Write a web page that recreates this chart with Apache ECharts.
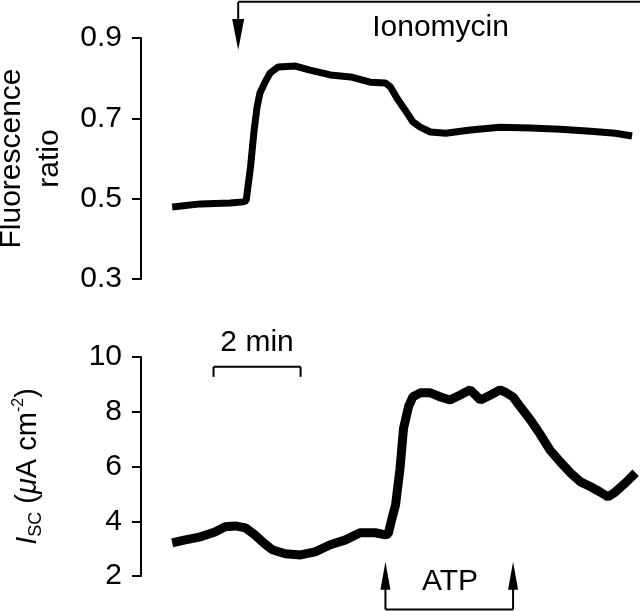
<!DOCTYPE html>
<html><head><meta charset="utf-8">
<script src="https://cdn.jsdelivr.net/npm/echarts@6/dist/echarts.min.js"></script>
<style>html,body{margin:0;padding:0;background:#fff}#c{width:640px;height:611px}</style>
</head><body><div id="c"></div>
<script>
// ---- data (time in seconds) ----
const topTime  = [0, 39, 80, 98, 102, 108, 113, 117, 121, 128, 135, 146, 170, 190, 218, 246, 273, 294, 301, 310, 321, 332, 342, 356, 377, 411, 452, 494, 535, 577, 611, 634];
const topRatio = [0.479, 0.487, 0.489, 0.492, 0.495, 0.579, 0.671, 0.728, 0.763, 0.790, 0.813, 0.828, 0.830, 0.820, 0.808, 0.803, 0.790, 0.788, 0.778, 0.750, 0.721, 0.691, 0.678, 0.666, 0.663, 0.671, 0.678, 0.676, 0.673, 0.668, 0.663, 0.656];
const iscTime  = [0, 18, 39, 59, 73, 87, 101, 114, 126, 138, 156, 177, 197, 218, 239, 259, 280, 294, 298, 303, 308, 314, 319, 326, 332, 342, 356, 370, 383, 397, 411, 425, 439, 452, 459, 470, 480, 494, 508, 521, 535, 549, 563, 577, 590, 601, 611, 625, 639];
const iscValue = [3.21, 3.32, 3.43, 3.61, 3.80, 3.83, 3.76, 3.50, 3.21, 2.96, 2.81, 2.77, 2.88, 3.14, 3.32, 3.58, 3.58, 3.50, 3.55, 4.10, 4.60, 5.90, 7.40, 8.20, 8.55, 8.69, 8.69, 8.54, 8.43, 8.61, 8.80, 8.43, 8.61, 8.80, 8.72, 8.54, 8.18, 7.70, 7.15, 6.60, 6.17, 5.77, 5.44, 5.26, 5.07, 4.89, 5.07, 5.40, 5.77];
const topTicks = [0.3, 0.5, 0.7, 0.9];
const iscTicks = [2, 4, 6, 8, 10];
const ionomycinTime = 91;
const atpTimes = [294, 470];
const scaleBarTimes = [57, 177];
const labels = {ionomycin: 'Ionomycin', atp: 'ATP', scale: '2 min'};

const FONT = '"Liberation Sans", Arial, sans-serif';
const chart = echarts.init(document.getElementById('c'), null, {renderer: 'canvas'});

function yAxis(gridIndex, ticks, name, extra) {
  return Object.assign({
    type: 'value', gridIndex: gridIndex,
    min: ticks[0], max: ticks[ticks.length - 1], interval: ticks[1] - ticks[0],
    axisLine: {show: true, onZero: false, lineStyle: {color: '#000', width: 2}},
    axisTick: {show: true, length: 9, inside: false, lineStyle: {color: '#000', width: 2}},
    splitLine: {show: false},
    axisLabel: {color: '#000', fontFamily: FONT, fontSize: 30, margin: 19},
    name: name, nameLocation: 'middle', nameRotate: 90, nameMoveOverlap: false
  }, extra);
}

const option = {
  animation: false,
  backgroundColor: '#fff',
  grid: [
    {left: 141, right: 0, top: 38, height: 241, containLabel: false, outerBoundsMode: 'none'},
    {left: 141, right: 0, top: 357, height: 219, containLabel: false, outerBoundsMode: 'none'}
  ],
  xAxis: [
    {type: 'value', gridIndex: 0, min: -43, max: 645, show: false},
    {type: 'value', gridIndex: 1, min: -43, max: 645, show: false}
  ],
  yAxis: [
    yAxis(0, topTicks, 'Fluorescence\nratio', {
      nameGap: 72,
      nameTextStyle: {color: '#000', fontFamily: FONT, fontSize: 30, lineHeight: 38}
    }),
    yAxis(1, iscTicks, '{it|I}{sub|SC} ({mu|μ}A cm{sup|-2})', {
      nameGap: 96,
      nameTextStyle: {
        color: '#000', fontFamily: FONT, fontSize: 29, lineHeight: 34,
        rich: {
          it: {fontStyle: 'italic', fontFamily: FONT, fontSize: 29, lineHeight: 34, color: '#000'},
          mu: {fontStyle: 'italic', fontFamily: FONT, fontSize: 29, lineHeight: 34, color: '#000'},
          sub: {fontFamily: FONT, fontSize: 18, verticalAlign: 'bottom', color: '#000'},
          sup: {fontFamily: FONT, fontSize: 16, verticalAlign: 'top', color: '#000'}
        }
      }
    })
  ],
  series: [
    {type: 'line', xAxisIndex: 0, yAxisIndex: 0, showSymbol: false, clip: false,
     data: topTime.map((t, i) => [t, topRatio[i]]),
     lineStyle: {color: '#000', width: 7}},
    {type: 'line', xAxisIndex: 1, yAxisIndex: 1, showSymbol: false, clip: false,
     data: iscTime.map((t, i) => [t, iscValue[i]]),
     lineStyle: {color: '#000', width: 9}}
  ]
};
chart.setOption(option);

// ---- annotations positioned through the axes ----
const P = (g, t, v) => chart.convertToPixel({gridIndex: g}, [t, v]);
const stroke = {stroke: '#000', lineWidth: 2};
const g = [];
function line(a, b) { g.push({type: 'line', shape: {x1: a[0], y1: a[1], x2: b[0], y2: b[1]}, style: stroke}); }
function tri(pts) { g.push({type: 'polygon', shape: {points: pts}, style: {fill: '#000'}}); }
function text(p, s, size) {
  g.push({type: 'text', x: p[0], y: p[1], style: {text: s, fill: '#000', font: size + 'px ' + FONT, align: 'center', verticalAlign: 'middle', textAlign: 'center', textVerticalAlign: 'middle'}});
}

// Ionomycin (top panel)
const ionTop = P(0, ionomycinTime, 0.99);
const ionTip = P(0, ionomycinTime, 0.87);
const ionEnd = P(0, 660, 0.99);
line(ionTop, [ionTop[0], ionTip[1] - 25]);
line(ionTop, ionEnd);
tri([[ionTip[0] - 6, ionTip[1] - 31], [ionTip[0] + 6, ionTip[1] - 31], [ionTip[0], ionTip[1]]]);
text(P(0, 370, 0.9 + 10 / 80.3 * 0.2), labels.ionomycin, 30);

// ATP (bottom panel)
const atpA = atpTimes.map(t => P(1, t, 2.52));
const atpBase = atpTimes.map(t => P(1, t, 0.78));
atpA.forEach((tip, i) => {
  line([tip[0], tip[1] + 20], atpBase[i]);
  tri([[tip[0] - 5, tip[1] + 28], [tip[0] + 5, tip[1] + 28], [tip[0], tip[1]]]);
});
line(atpBase[0], atpBase[1]);
text(P(1, (atpTimes[0] + atpTimes[1]) / 2 + 1, 1.8), labels.atp, 30);

// 2 min scale bar
const sA = P(1, scaleBarTimes[0], 9.64), sB = P(1, scaleBarTimes[1], 9.64);
line(sA, sB);
line(sA, [sA[0], sA[1] + 10]);
line(sB, [sB[0], sB[1] + 10]);
text([(sA[0] + sB[0]) / 2, sA[1] - 24], labels.scale, 30);

chart.setOption({graphic: g});
</script>
</body></html>
